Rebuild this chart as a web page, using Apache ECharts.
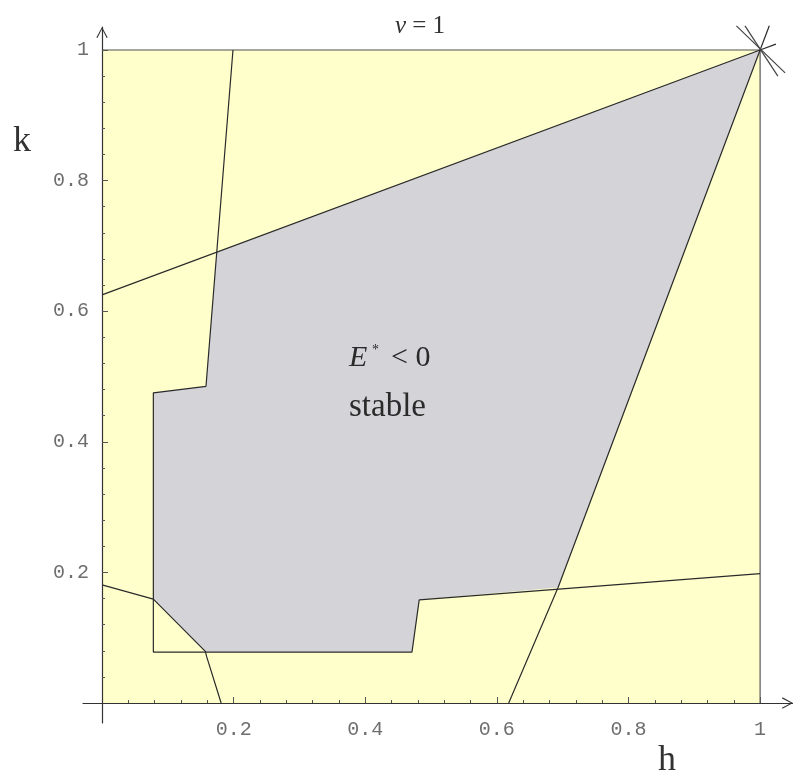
<!DOCTYPE html>
<html>
<head>
<meta charset="utf-8">
<script src="https://cdn.jsdelivr.net/npm/echarts@6/dist/echarts.min.js"></script>
<style>
  html, body { margin: 0; padding: 0; background: #ffffff; }
  #chart { width: 793px; height: 778px; }
</style>
</head>
<body>
<div id="chart"></div>
<script>
// Stability region in the (h, k) plane for v = 1

// tick positions
const majorTicks = [0.2, 0.4, 0.6, 0.8, 1];
const minorTicks = [0.04, 0.08, 0.12, 0.16, 0.24, 0.28, 0.32, 0.36, 0.44, 0.48,
                    0.52, 0.56, 0.64, 0.68, 0.72, 0.76, 0.84, 0.88, 0.92, 0.96];

// unit square (background region)
const unitSquare = [[0, 0], [1, 0], [1, 1], [0, 1]];

// stable region E* < 0
const stableRegion = [
  [0.078, 0.475], [0.158, 0.485], [0.1743, 0.690], [1, 1],
  [0.693, 0.177], [0.482, 0.158], [0.471, 0.078], [0.157, 0.078],
  [0.078, 0.159]
];

// boundary curves
const stepCurve = [
  [0.199, 1], [0.158, 0.485], [0.078, 0.475], [0.078, 0.078],
  [0.471, 0.078], [0.482, 0.158], [1, 0.198]
];
const upperCurve = [[0, 0.625], [1, 1], [1.024, 1.009]];
const steepCurve = [[0.618, 0], [0.693, 0.177], [1, 1], [1.014, 1.037]];
const cornerCurve = [[0, 0.181], [0.078, 0.159], [0.157, 0.079], [0.159, 0.071], [0.181, 0]];
const crossA = [[0.964, 1.037], [1.038, 0.965]];
const crossB = [[0.977, 1.037], [1.027, 0.960]];
const topEdge = [[0, 1], [1, 1]];
const rightEdge = [[1, 0], [1, 1]];

const YELLOW = '#FFFFCC';
const GRAY = '#D4D4D8';
const INK = '#2a2a2a';
const arrowPath = 'path://M0,12 L6.5,0 L13,12 L11.8,12.6 L6.5,2.4 L1.2,12.6 Z';

const chart = echarts.init(document.getElementById('chart'), null, { renderer: 'canvas' });

const monoLabel = {
  fontFamily: 'Liberation Mono',
  fontSize: 20,
  color: '#6e6e6e'
};

function polygonSeries(points, color, z) {
  return {
    type: 'custom',
    silent: true,
    z: z,
    data: [0],
    renderItem: function (params, api) {
      return {
        type: 'polygon',
        shape: { points: points.map(function (p) { return api.coord(p); }) },
        style: { fill: color, stroke: 'none' }
      };
    }
  };
}

function lineSeries(points, color, width) {
  return {
    type: 'line',
    data: points,
    showSymbol: false,
    symbol: 'none',
    clip: false,
    silent: true,
    z: 4,
    lineStyle: { color: color || INK, width: width || 1.2 }
  };
}

const xMin = -0.0289, xMax = 1.050;
const yMin = -0.0306, yMax = 1.0352;

function textEl(x, y, text, font, color) {
  return {
    type: 'text', x: x, y: y, z: 10,
    style: { text: text, font: font, fill: color || '#2a2a2a',
             align: 'left', verticalAlign: 'middle', textAlign: 'left', textVerticalAlign: 'middle' }
  };
}

chart.setOption({
  animation: false,
  backgroundColor: '#ffffff',
  grid: { left: 83, right: 0, top: 27, bottom: 55, containLabel: false },
  xAxis: [
    {
      type: 'value', position: 'bottom', min: xMin, max: xMax, z: 6,
      splitLine: { show: false },
      axisLine: {
        show: true, onZero: true,
        symbol: ['none', arrowPath], symbolSize: [13, 11], symbolOffset: [0, -5.5],
        lineStyle: { color: '#333', width: 1.2 }
      },
      axisTick: { show: true, inside: true, length: 6, customValues: majorTicks,
                  lineStyle: { color: '#555', width: 1 } },
      axisLabel: Object.assign({ customValues: majorTicks, margin: -3 }, monoLabel)
    },
    {
      type: 'value', position: 'bottom', min: xMin, max: xMax, z: 6,
      splitLine: { show: false },
      axisLine: { show: true, onZero: true, lineStyle: { opacity: 0 } },
      axisTick: { show: true, inside: true, length: 3, customValues: minorTicks,
                  lineStyle: { color: '#555', width: 1 } },
      axisLabel: { show: false }
    }
  ],
  yAxis: [
    {
      type: 'value', position: 'left', min: yMin, max: yMax, z: 6,
      splitLine: { show: false },
      axisLine: {
        show: true, onZero: true,
        symbol: ['none', arrowPath], symbolSize: [13, 11], symbolOffset: [0, -5.5],
        lineStyle: { color: '#333', width: 1.2 }
      },
      axisTick: { show: true, inside: true, length: 6, customValues: majorTicks,
                  lineStyle: { color: '#555', width: 1 } },
      axisLabel: Object.assign({ customValues: majorTicks, margin: -6 }, monoLabel)
    },
    {
      type: 'value', position: 'left', min: yMin, max: yMax, z: 6,
      splitLine: { show: false },
      axisLine: { show: true, onZero: true, lineStyle: { opacity: 0 } },
      axisTick: { show: true, inside: true, length: 3, customValues: minorTicks,
                  lineStyle: { color: '#555', width: 1 } },
      axisLabel: { show: false }
    }
  ],
  series: [
    polygonSeries(unitSquare, YELLOW, 1),
    polygonSeries(stableRegion, GRAY, 2),
    lineSeries(topEdge, '#8a8a82', 1.3),
    lineSeries(rightEdge, '#555', 1.2),
    lineSeries(stepCurve),
    lineSeries(upperCurve),
    lineSeries(steepCurve),
    lineSeries(cornerCurve),
    lineSeries(crossA, '#444', 1.2),
    lineSeries(crossB, '#444', 1.2)
  ],
  graphic: [
    {
      type: 'text', x: 420, y: 26, z: 10,
      style: {
        text: '{i|v} = 1', align: 'center', verticalAlign: 'middle',
        textAlign: 'center', textVerticalAlign: 'middle',
        font: '25px "Liberation Serif"', fill: '#333',
        rich: { i: { fontStyle: 'italic', fontFamily: 'Liberation Serif', fontSize: 25, fill: '#333', color: '#333' } }
      }
    },
    textEl(13, 142, 'k', '36px "Liberation Serif"', '#333'),
    textEl(658, 761, 'h', '36px "Liberation Serif"', '#333'),
    textEl(349, 358, 'E', 'italic 30px "Liberation Serif"'),
    textEl(372, 350, '*', '14px "Liberation Serif"'),
    textEl(391, 358, '< 0', '30px "Liberation Serif"'),
    textEl(349, 407, 'stable', '33px "Liberation Serif"')
  ]
});
</script>
</body>
</html>
